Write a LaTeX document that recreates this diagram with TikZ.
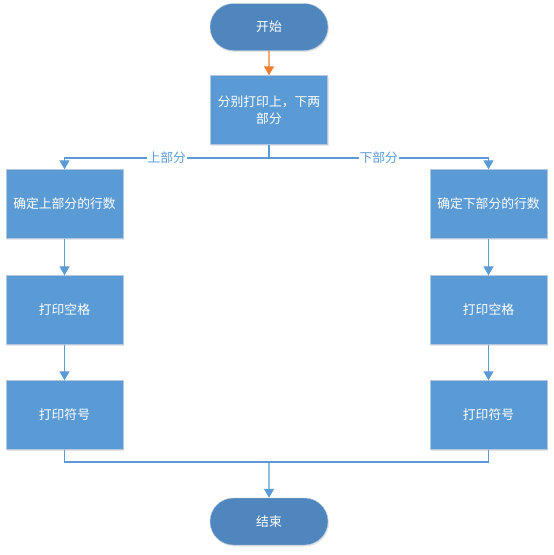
\documentclass[tikz,border=0pt]{standalone}
\usepackage{fontspec}
\setmainfont{Noto Sans CJK SC}
\usetikzlibrary{arrows.meta,shapes.misc,shadows}
\definecolor{boxblue}{HTML}{5B9BD5}
\definecolor{pillblue}{HTML}{4F86BD}
\definecolor{edgegray}{HTML}{B4C7DC}
\definecolor{arrorange}{HTML}{ED7D31}

\begin{document}
\begin{tikzpicture}[x=1pt,y=-1pt,
		every node/.style={font=\fontsize{12.8}{17}\selectfont},
		term/.style={rounded rectangle, fill=pillblue, draw=edgegray, text=white, minimum width=118pt, minimum height=47pt,
			inner xsep=0pt, text width=116pt, align=center,
			drop shadow={shadow xshift=1pt, shadow yshift=-1.5pt, opacity=.2}},
		proc/.style={rectangle, fill=boxblue, draw=edgegray, text=white, minimum width=117pt, minimum height=69pt, align=center,
			drop shadow={shadow xshift=1pt, shadow yshift=-1.5pt, opacity=.2}},
		wire/.style={draw=boxblue, line width=1.3pt},
		link/.style={wire, -{Triangle[length=9pt,width=10pt]}},
		tag/.style={fill=white, text=boxblue, inner sep=1pt}]
	\useasboundingbox (0,0) rectangle (554,555);

	\node[term] (start) at (269,27) {开始};
	\node[proc] (split) at (269,110) {分别打印上，下两\\部分};
	\coordinate (fork) at (269,158);

	% upper part
	\node[proc] (rowsU) at (64.5,204) {确定上部分的行数};
	\node[proc] (spaceU) at (64.5,310) {打印空格};
	\node[proc] (signU) at (64.5,415) {打印符号};

	% lower part
	\node[proc] (rowsL) at (488.5,204) {确定下部分的行数};
	\node[proc] (spaceL) at (488.5,310) {打印空格};
	\node[proc] (signL) at (488.5,415) {打印符号};

	\coordinate (join) at (269,462);
	\node[term] (stop) at (269,521.5) {结束};

	\draw[wire, draw=arrorange, -{Triangle[length=9pt,width=10pt]}] (start) -- (split);
	\draw[wire] (split) -- (fork);
	\draw[link] (fork) -- node[tag]{上部分} (fork -| rowsU) -- (rowsU);
	\draw[link] (fork) -- node[tag]{下部分} (fork -| rowsL) -- (rowsL);
	\draw[link] (rowsU) -- (spaceU);
	\draw[link] (spaceU) -- (signU);
	\draw[link] (rowsL) -- (spaceL);
	\draw[link] (spaceL) -- (signL);
	\draw[wire] (signU) -- (signU |- join) -- (join);
	\draw[wire] (signL) -- (signL |- join) -- (join);
	\draw[link] (join) -- (stop);
\end{tikzpicture}
\end{document}
